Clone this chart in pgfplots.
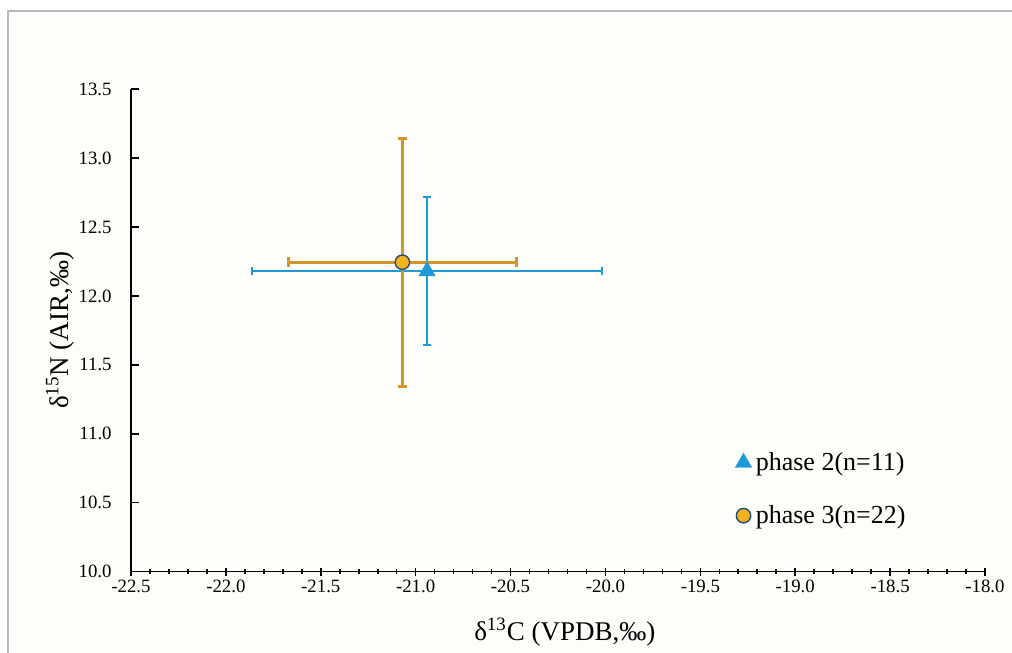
\documentclass[border=0pt]{standalone}
\usepackage{fontspec}
\setmainfont{Liberation Serif}
\usepackage{pgfplots}
\pgfplotsset{compat=1.18}
\definecolor{pblue}{HTML}{1E9AD6}
\definecolor{porange}{HTML}{D4952A}
\definecolor{pfill}{HTML}{F5B21F}
\definecolor{pedge}{HTML}{1F4E79}
\definecolor{bgc}{HTML}{FDFDF9}
\begin{document}
\begin{tikzpicture}
\path[use as bounding box] (0,0) rectangle (506pt,326.5pt);
\fill[white] (0,0) rectangle (506pt,326.5pt);
\fill[bgc] (4pt,0) rectangle (506pt,321pt);
\draw[gray!55, line width=0.6pt] (4pt,0) -- (4pt,321pt) -- (506pt,321pt);
\begin{axis}[
  at={(65.5pt,40.7pt)}, anchor=south west,
  scale only axis, width=427pt, height=241.15pt,
  xmin=-22.5, xmax=-18.0, ymin=10.0, ymax=13.5,
  axis lines*=left,
  axis line style={line width=0.9pt, -},
  xtick={-22.5,-22,...,-18}, ytick={10,10.5,...,13.5},
  minor x tick num=4,
  x tick style={line width=0.8pt, black},
  y tick style={line width=0.8pt, black},
  xtick align=center, ytick align=inside,
  major tick length=4pt, minor tick length=2.6pt,
  /pgf/number format/assume math mode=true,
  /pgf/number format/.cd, fixed, fixed zerofill, precision=1, /pgfplots/.cd,
  tick label style={font=\fontsize{9.4}{11}\selectfont},
  yticklabel style={inner sep=0pt, xshift=-9.5pt},
  xticklabel style={inner sep=0pt, yshift=-2pt},
  label style={font=\fontsize{13.5}{15}\selectfont},
  xlabel={δ\textsuperscript{13}C (VPDB,‰)},
  ylabel={δ\textsuperscript{15}N (AIR,‰)},
  xlabel style={at={(axis description cs:0.508,-0.125)}, anchor=center},
  ylabel style={at={(axis description cs:-0.083,0.5)}, anchor=center},
  legend style={at={(0.70,0.171)}, anchor=west, draw=none, fill=none,
    font=\fontsize{13}{15}\selectfont, row sep=12pt,
    /tikz/every even column/.append style={column sep=0pt}},
  legend cell align=left,
  clip=false,
]
\addplot[only marks, mark=triangle*, mark size=4.8pt, mark options={fill=pblue, draw=pblue, line width=0.1pt},
  error bars/.cd, x dir=both, x explicit, y dir=both, y explicit,
  error bar style={color=pblue, line width=1pt},
  error mark options={rotate=90, mark size=2.1pt, line width=1pt, color=pblue}]
  coordinates {(-20.94,12.18) +- (0.92,0.535)};
\addlegendentry{phase 2(n=11)}
\addplot[only marks, mark=*, mark size=3.6pt, mark options={fill=pfill, draw=pedge, line width=0.7pt},
  error bars/.cd, x dir=both, x explicit, y dir=both, y explicit,
  error bar style={color=porange, line width=1.3pt},
  error mark options={rotate=90, mark size=2.4pt, line width=1.3pt, color=porange}]
  coordinates {(-21.07,12.245) +- (0.60,0.90)};
\addlegendentry{phase 3(n=22)}
\end{axis}
\end{tikzpicture}
\end{document}
